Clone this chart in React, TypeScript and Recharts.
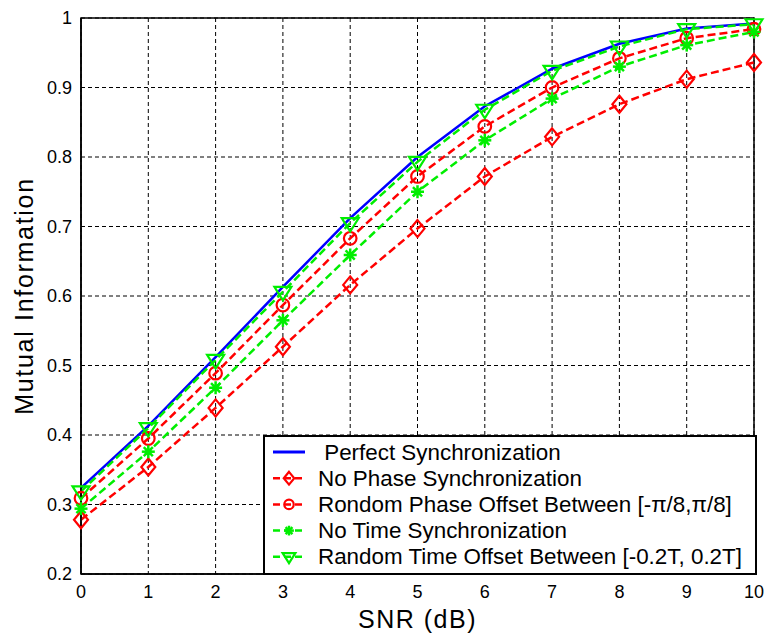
import React from "react"
import { LineChart, Line, XAxis, YAxis, CartesianGrid, ReferenceArea } from "recharts"

const snr = [0, 1, 2, 3, 4, 5, 6, 7, 8, 9, 10]
const perfect = [0.324, 0.413, 0.512, 0.613, 0.712, 0.8, 0.873, 0.927, 0.963, 0.985, 0.992]
const noPhase = [0.278, 0.354, 0.439, 0.527, 0.616, 0.697, 0.772, 0.829, 0.876, 0.912, 0.936]
const randomPhase = [0.309, 0.395, 0.489, 0.587, 0.683, 0.772, 0.844, 0.9, 0.942, 0.971, 0.984]
const noTime = [0.294, 0.376, 0.468, 0.565, 0.659, 0.75, 0.824, 0.884, 0.93, 0.961, 0.98]
const randomTime = [0.319, 0.41, 0.508, 0.606, 0.705, 0.793, 0.868, 0.924, 0.959, 0.984, 0.991]

const xTicks = [0, 1, 2, 3, 4, 5, 6, 7, 8, 9, 10]
const yTicks = [0.2, 0.3, 0.4, 0.5, 0.6, 0.7, 0.8, 0.9, 1]

const seriesNames = [
  " Perfect Synchronization",
  "No Phase Synchronization",
  "Rondom Phase Offset Between [-\u03c0/8,\u03c0/8]",
  "No Time Synchronization",
  "Random Time Offset Between [-0.2T, 0.2T]",
]

const data = snr.map((x, i) => ({
  snr: x,
  perfect: perfect[i],
  noPhase: noPhase[i],
  randomPhase: randomPhase[i],
  noTime: noTime[i],
  randomTime: randomTime[i],
}))

const RED = "#ff0000"
const GREEN = "#00ee00"
const BLUE = "#0000ff"
const FONT = "'Liberation Sans', Arial, sans-serif"

type MarkProps = { cx: number; cy: number; s?: number }

// marker shapes, roughly like matlab's
const Diamond = ({ cx, cy, s = 1 }: MarkProps) => (
  <polygon
    points={`${cx},${cy - 8.5 * s} ${cx + 7 * s},${cy} ${cx},${cy + 8.5 * s} ${cx - 7 * s},${cy}`}
    fill="none"
    stroke={RED}
    strokeWidth={2.2}
  />
)

const Circle = ({ cx, cy, s = 1 }: MarkProps) => (
  <circle cx={cx} cy={cy} r={6.3 * s} fill="none" stroke={RED} strokeWidth={2.2} />
)

const Star = ({ cx, cy, s = 1 }: MarkProps) => {
  const r = 6.5 * s
  const d = r * 0.7
  return (
    <g stroke={GREEN} strokeWidth={2.5}>
      <line x1={cx - r} y1={cy} x2={cx + r} y2={cy} />
      <line x1={cx} y1={cy - r} x2={cx} y2={cy + r} />
      <line x1={cx - d} y1={cy - d} x2={cx + d} y2={cy + d} />
      <line x1={cx - d} y1={cy + d} x2={cx + d} y2={cy - d} />
      <circle cx={cx} cy={cy} r={3.2 * s} fill={GREEN} stroke="none" />
    </g>
  )
}

const TriDown = ({ cx, cy, s = 1 }: MarkProps) => (
  <polygon
    points={`${cx - 8.5 * s},${cy - 5 * s} ${cx + 8.5 * s},${cy - 5 * s} ${cx},${cy + 8.5 * s}`}
    fill="none"
    stroke={GREEN}
    strokeWidth={2.2}
  />
)

const markers = [null, Diamond, Circle, Star, TriDown]
const colors = [BLUE, RED, RED, GREEN, GREEN]

function dotFor(Mark: any) {
  return (props: any) => <Mark key={`m-${props.index}`} cx={props.cx} cy={props.cy} />
}

function YLabel(props: any) {
  const vb = props.viewBox || { x: 0, y: 18, width: 81, height: 556 }
  const x = vb.x + 24
  const y = vb.y + vb.height / 2
  return (
    <text
      x={x}
      y={y}
      transform={`rotate(-90, ${x}, ${y})`}
      textAnchor="middle"
      dominantBaseline="central"
      fontFamily={FONT}
      fontSize={25}
      letterSpacing={1.7}
      fill="#000"
    >
      Mutual Information
    </text>
  )
}

function LegendBox() {
  return (
    <div
      style={{
        position: "absolute",
        left: 263,
        top: 435,
        width: 494,
        height: 140,
        background: "#fff",
        boxSizing: "border-box",
        border: "2px solid #000",
      }}
    >
      <svg width={490} height={136} style={{ position: "absolute", left: 0, top: 0 }}>
        {seriesNames.map((name, i) => {
          const cy = 15 + i * 26.2
          const Mark = markers[i]
          return (
            <g key={name}>
              <line
                x1={8}
                x2={40}
                y1={cy}
                y2={cy}
                stroke={colors[i]}
                strokeWidth={i === 0 ? 3 : 2.5}
                strokeDasharray={i === 0 ? undefined : "7 4"}
              />
              {Mark && <Mark cx={24} cy={cy} s={0.75} />}
              <text
                x={53}
                y={cy}
                dominantBaseline="central"
                fontFamily={FONT}
                fontSize={22.4}
                fill="#000"
                style={{ whiteSpace: "pre" }}
              >
                {name}
              </text>
            </g>
          )
        })}
      </svg>
    </div>
  )
}

export default function App() {
  const tickStyle = { fontFamily: FONT, fontSize: 18, fill: "#000" }
  return (
    <div style={{ position: "absolute", left: 0, top: 0, width: 767, height: 637, background: "#fff" }}>
      <LineChart width={767} height={637} data={data} margin={{ top: 18, right: 13, bottom: 0, left: 0 }}>
        <CartesianGrid stroke="#000" strokeDasharray="4 3" strokeWidth={1} horizontalValues={yTicks} verticalValues={xTicks} />
        <XAxis
          dataKey="snr"
          type="number"
          domain={[0, 10]}
          ticks={xTicks}
          height={63}
          tickLine={false}
          tickSize={0}
          tickMargin={11}
          axisLine={{ stroke: "#000", strokeWidth: 1.5 }}
          tick={tickStyle}
          label={{
            value: "SNR (dB)",
            position: "insideBottom",
            offset: 9,
            style: { fontFamily: FONT, fontSize: 25, letterSpacing: 1.5, fill: "#000" },
          }}
        />
        <YAxis
          type="number"
          domain={[0.2, 1]}
          ticks={yTicks}
          width={81}
          tickLine={false}
          tickSize={0}
          tickMargin={9}
          axisLine={{ stroke: "#000", strokeWidth: 1.5 }}
          tick={tickStyle}
          tickFormatter={(v: number) => (v === 1 ? "1" : v.toFixed(1))}
          label={YLabel}
        />
        <ReferenceArea x1={0} x2={10} y1={0.2} y2={1} fill="none" stroke="#000" strokeWidth={1.5} />
        <Line dataKey="perfect" stroke={BLUE} strokeWidth={2.5} dot={false} isAnimationActive={false} />
        <Line dataKey="noPhase" stroke={RED} strokeWidth={2.5} strokeDasharray="8 4" dot={dotFor(Diamond)} isAnimationActive={false} />
        <Line dataKey="randomPhase" stroke={RED} strokeWidth={2.5} strokeDasharray="8 4" dot={dotFor(Circle)} isAnimationActive={false} />
        <Line dataKey="noTime" stroke={GREEN} strokeWidth={2.5} strokeDasharray="8 4" dot={dotFor(Star)} isAnimationActive={false} />
        <Line dataKey="randomTime" stroke={GREEN} strokeWidth={2.5} strokeDasharray="8 4" dot={dotFor(TriDown)} isAnimationActive={false} />
      </LineChart>
      <LegendBox />
    </div>
  )
}
